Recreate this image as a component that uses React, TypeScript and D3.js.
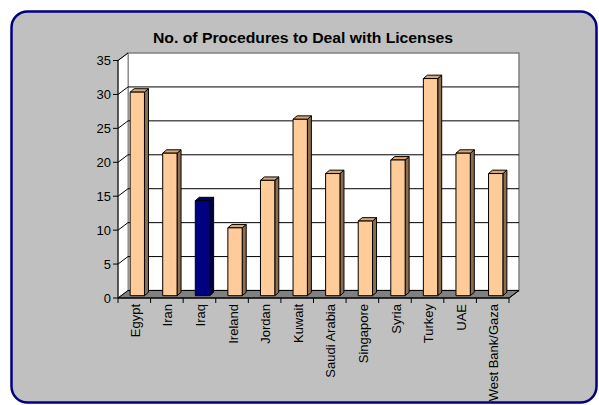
import React from "react";
import * as d3 from "d3";

const title = "No. of Procedures to Deal with Licenses";
const categories = ["Egypt", "Iran", "Iraq", "Ireland", "Jordan", "Kuwait", "Saudi Arabia", "Singapore", "Syria", "Turkey", "UAE", "West Bank/Gaza"];
const values = [30, 21, 14, 10, 17, 26, 18, 11, 20, 32, 21, 18];
const highlighted = ["Iraq"];
const yTicks = [0, 5, 10, 15, 20, 25, 30, 35];

const W = 599;
const H = 405;
const FONT = "'Liberation Sans', Arial, sans-serif";

export default function App() {
  const left = 118;
  const right = 509;
  const y0 = 298;
  const yTop = 60.5;
  const depthX = 10;
  const depthY = -7.5;
  const barShiftX = 3;
  const barShiftY = -2.3;
  const barDX = 4;
  const barDY = -3.4;

  const x = d3.scaleBand<string>().domain(categories).range([left, right]).padding(0);
  const y = d3.scaleLinear().domain([0, 35]).range([y0, yTop]);
  const bw = x.bandwidth() * 0.44;

  const normal = { front: "#FFCC99", side: "#8C6E4F", top: "#D9A877" };
  const hi = { front: "#000080", side: "#000040", top: "#000066" };

  return (
    <svg width={W} height={H} style={{ position: "absolute", left: 0, top: 0 }} fontFamily={FONT}>
      <rect x={0} y={0} width={W} height={H} fill="#ffffff" />
      <rect x={11.5} y={11.5} width={585} height={391} rx={16} ry={16} fill="#C0C0C0" stroke="#000080" strokeWidth={2.5} />
      <text x={303} y={43} textAnchor="middle" fontSize={14} fontWeight="bold" fill="#000" textLength={300} lengthAdjust="spacingAndGlyphs">{title}</text>

      {/* back wall */}
      <rect x={left + depthX} y={yTop + depthY} width={right - left} height={y0 - yTop} fill="#ffffff" stroke="#808080" strokeWidth={1.5} />
      {/* side wall */}
      <polygon
        points={`${left},${yTop} ${left + depthX},${yTop + depthY} ${left + depthX},${y0 + depthY} ${left},${y0}`}
        fill="#ffffff" stroke="#808080" strokeWidth={1}
      />
      {/* gridlines */}
      {yTicks.filter(t => t > 0 && t < 35).map(t => (
        <g key={"g" + t}>
          <line x1={left + depthX} x2={right + depthX} y1={y(t) + depthY} y2={y(t) + depthY} stroke="#000" strokeWidth={1} />
          <line x1={left} x2={left + depthX} y1={y(t)} y2={y(t) + depthY} stroke="#000" strokeWidth={1} />
        </g>
      ))}
      <line x1={left} x2={left + depthX} y1={yTop} y2={yTop + depthY} stroke="#000" strokeWidth={1} />
      {/* floor */}
      <polygon
        points={`${left},${y0} ${left + depthX},${y0 + depthY} ${right + depthX},${y0 + depthY} ${right},${y0}`}
        fill="#808080" stroke="#000" strokeWidth={1}
      />

      {/* bars */}
      {categories.map((c, i) => {
        const col = highlighted.includes(c) ? hi : normal;
        const bx = (x(c) as number) + (x.bandwidth() - bw) / 2 + barShiftX;
        const by = y(values[i]) + barShiftY;
        const bb = y0 + barShiftY;
        return (
          <g key={c} stroke="#000" strokeWidth={1} strokeLinejoin="round">
            <polygon
              points={`${bx + bw},${by} ${bx + bw + barDX},${by + barDY} ${bx + bw + barDX},${bb + barDY} ${bx + bw},${bb}`}
              fill={col.side}
            />
            <polygon
              points={`${bx},${by} ${bx + barDX},${by + barDY} ${bx + bw + barDX},${by + barDY} ${bx + bw},${by}`}
              fill={col.top}
            />
            <rect x={bx} y={by} width={bw} height={bb - by} fill={col.front} />
          </g>
        );
      })}

      {/* axes */}
      <line x1={left} x2={left} y1={yTop} y2={y0} stroke="#000" strokeWidth={1} />
      <line x1={left} x2={right} y1={y0} y2={y0} stroke="#000" strokeWidth={1} />
      <line x1={right} x2={right + depthX} y1={y0} y2={y0 + depthY} stroke="#000" strokeWidth={1} />
      {yTicks.map(t => (
        <g key={"t" + t}>
          <line x1={left - 5} x2={left} y1={y(t)} y2={y(t)} stroke="#000" strokeWidth={1} />
          <text x={left - 7} y={y(t)} dy="0.35em" textAnchor="end" fontSize={13} fill="#000">{t}</text>
        </g>
      ))}
      {[...categories.map(c => x(c) as number), right].map((v, i) => (
        <line key={"xt" + i} x1={v} x2={v} y1={y0} y2={y0 + 5} stroke="#000" strokeWidth={1} />
      ))}
      {categories.map(c => {
        const cx = (x(c) as number) + x.bandwidth() / 2 + 1;
        return (
          <text key={"l" + c} transform={`translate(${cx},304) rotate(-90)`} dy="0.35em" textAnchor="end" fontSize={13} fill="#000">{c}</text>
        );
      })}
    </svg>
  );
}
